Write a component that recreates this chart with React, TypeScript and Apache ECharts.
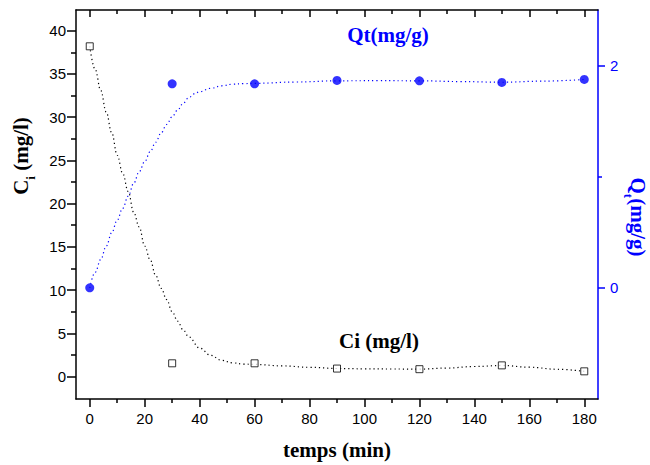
import React, { useEffect, useRef } from "react";
import * as echarts from "echarts";

// measured points
const times = [0, 30, 60, 90, 120, 150, 180];
const ciValues = [38.2, 1.53, 1.53, 0.92, 0.85, 1.29, 0.6];
const qtValues = [0, 1.836, 1.836, 1.866, 1.863, 1.848, 1.875];

// dotted fitted curves
const ciFitTimes = [0, 2, 4, 6, 8, 10, 12, 14, 16, 18, 20, 22, 24, 26, 28, 30, 32, 34, 36, 40, 44, 48, 52, 56, 60, 70, 80, 90, 100, 110, 120, 130, 140, 150, 160, 170, 180];
const ciFitValues = [38.2, 35.5, 33.1, 30.6, 28.2, 25.6, 23.5, 21.4, 19.0, 17.3, 15.1, 13.5, 11.7, 10.2, 8.9, 7.5, 6.4, 5.4, 4.6, 3.3, 2.45, 1.87, 1.58, 1.44, 1.4, 1.23, 1.07, 0.93, 0.89, 0.87, 0.86, 0.98, 1.16, 1.28, 1.08, 0.84, 0.6];
const qtFitTimes = [0, 2, 4, 6, 8, 10, 12, 14, 16, 18, 20, 22, 24, 26, 28, 30, 32, 34, 36, 38, 40, 44, 48, 52, 56, 60, 75, 90, 105, 120, 135, 150, 165, 180];
const qtFitValues = [0, 0.14, 0.255, 0.375, 0.495, 0.61, 0.716, 0.825, 0.94, 1.045, 1.135, 1.225, 1.31, 1.395, 1.47, 1.54, 1.6, 1.66, 1.71, 1.745, 1.765, 1.795, 1.818, 1.832, 1.838, 1.84, 1.852, 1.863, 1.864, 1.863, 1.856, 1.85, 1.86, 1.875];

// ticks
const xMajorTicks = [0, 20, 40, 60, 80, 100, 120, 140, 160, 180];
const xMinorTicks = [10, 30, 50, 70, 90, 110, 130, 150, 170];
const ciTicks = [0, 5, 10, 15, 20, 25, 30, 35, 40];
const ciMinorTicks = [2.5, 7.5, 12.5, 17.5, 22.5, 27.5, 32.5, 37.5];
const qtTicks = [0, 2];
const qtMinorTicks = [1];

export default function App() {
  const ref = useRef<HTMLDivElement>(null);
  useEffect(() => {
    const chart = echarts.init(ref.current!, null, { renderer: "svg" });
    const serif = "'Liberation Serif', 'Times New Roman', serif";
    const sans = "'Liberation Sans', Arial, sans-serif";
    const blue = "#0000ff";
    const black = "#000000";
    const lw = 1.5;

    const xBase = (position: string, showLine: boolean, ticks: number[], len: number, inside: boolean, labels: boolean) => ({
      type: "value",
      position,
      offset: 0,
      min: -5,
      max: 185,
      axisLine: { show: showLine, onZero: false, lineStyle: { color: black, width: lw } },
      axisTick: { show: true, inside, length: len, customValues: ticks, lineStyle: { color: black, width: lw } },
      axisLabel: labels
        ? { show: true, customValues: ticks, margin: 12, fontSize: 15, color: black, fontFamily: sans }
        : { show: false },
      splitLine: { show: false },
    });

    const yBase = (position: string, min: number, max: number, color: string, showLine: boolean, ticks: number[], len: number, labels: boolean, margin: number) => ({
      type: "value",
      position,
      offset: 0,
      min,
      max,
      axisLine: { show: showLine, onZero: false, lineStyle: { color, width: lw } },
      axisTick: { show: true, inside: false, length: len, customValues: ticks, lineStyle: { color, width: lw } },
      axisLabel: labels
        ? { show: true, customValues: ticks, margin, fontSize: 15, color, fontFamily: sans }
        : { show: false },
      splitLine: { show: false },
    });

    const pairs = (xs: number[], ys: number[]) => xs.map((x, i) => [x, ys[i]]);

    chart.setOption({
      animation: false,
      backgroundColor: "#ffffff",
      grid: { left: 76, right: 52, top: 10, bottom: 63, containLabel: false },
      xAxis: [
        {
          ...xBase("bottom", true, xMajorTicks, 8, false, true),
          name: "temps (min)",
          nameLocation: "middle",
          nameGap: 40,
          nameTextStyle: { fontFamily: serif, fontWeight: "bold", fontSize: 21, color: black },
        },
        xBase("bottom", false, xMinorTicks, 4, false, false),
        xBase("top", true, xMajorTicks, 7, true, false),
        xBase("top", false, xMinorTicks, 4, true, false),
      ],
      yAxis: [
        yBase("left", -2.6, 42.4, black, true, ciTicks, 9, true, 10),
        yBase("left", -2.6, 42.4, black, false, ciMinorTicks, 5, false, 10),
        yBase("right", -1, 2.5, blue, true, qtTicks, 7, true, 12),
        yBase("right", -1, 2.5, blue, false, qtMinorTicks, 4, false, 12),
      ],
      series: [
        {
          name: "Ci fit",
          type: "line",
          xAxisIndex: 0,
          yAxisIndex: 0,
          data: pairs(ciFitTimes, ciFitValues),
          smooth: 0.4,
          smoothMonotone: "x",
          showSymbol: false,
          symbol: "none",
          lineStyle: { color: black, width: 1.2, type: [1.2, 3] },
          z: 2,
        },
        {
          name: "Qt fit",
          type: "line",
          xAxisIndex: 0,
          yAxisIndex: 2,
          data: pairs(qtFitTimes, qtFitValues),
          smooth: 0.4,
          smoothMonotone: "x",
          showSymbol: false,
          symbol: "none",
          lineStyle: { color: blue, width: 1.2, type: [1.2, 3] },
          z: 2,
        },
        {
          name: "Ci (mg/l)",
          type: "scatter",
          xAxisIndex: 0,
          yAxisIndex: 0,
          data: pairs(times, ciValues),
          symbol: "rect",
          symbolSize: 7,
          itemStyle: { color: "#ffffff", borderColor: black, borderWidth: 1 },
          z: 3,
        },
        {
          name: "Qt(mg/g)",
          type: "scatter",
          xAxisIndex: 0,
          yAxisIndex: 2,
          data: pairs(times, qtValues),
          symbol: "circle",
          symbolSize: 9,
          itemStyle: { color: blue },
          z: 3,
        },
      ],
      graphic: [
        {
          type: "text",
          x: 21,
          y: 156,
          rotation: Math.PI / 2,
          style: {
            text: "{a|C}{s|i}{a| (mg/l)}",
            align: "center",
            verticalAlign: "middle",
            textAlign: "center",
            textVerticalAlign: "middle",
            rich: {
              a: { fontFamily: serif, fontWeight: "bold", fontSize: 21, lineHeight: 32, fill: black },
              s: { fontFamily: serif, fontWeight: "bold", fontSize: 13, lineHeight: 13, verticalAlign: "bottom", fill: black },
            },
          },
        },
        {
          type: "text",
          x: 638,
          y: 217,
          rotation: -Math.PI / 2,
          style: {
            text: "{a|Q}{s|t}{a|(mg/g)}",
            align: "center",
            verticalAlign: "middle",
            textAlign: "center",
            textVerticalAlign: "middle",
            rich: {
              a: { fontFamily: serif, fontWeight: "bold", fontSize: 21, lineHeight: 32, fill: blue },
              s: { fontFamily: serif, fontWeight: "bold", fontSize: 13, lineHeight: 13, verticalAlign: "bottom", fill: blue },
            },
          },
        },
        {
          type: "text",
          x: 388,
          y: 35,
          style: {
            text: "Qt(mg/g)",
            fill: blue,
            font: "bold 21px " + serif,
            align: "center",
            verticalAlign: "middle",
            textAlign: "center",
            textVerticalAlign: "middle",
          },
        },
        {
          type: "text",
          x: 379,
          y: 341,
          style: {
            text: "Ci (mg/l)",
            fill: black,
            font: "bold 21px " + serif,
            align: "center",
            verticalAlign: "middle",
            textAlign: "center",
            textVerticalAlign: "middle",
          },
        },
      ],
    });
    return () => chart.dispose();
  }, []);
  return <div ref={ref} style={{ position: "absolute", left: 0, top: 0, width: 650, height: 465 }} />;
}
